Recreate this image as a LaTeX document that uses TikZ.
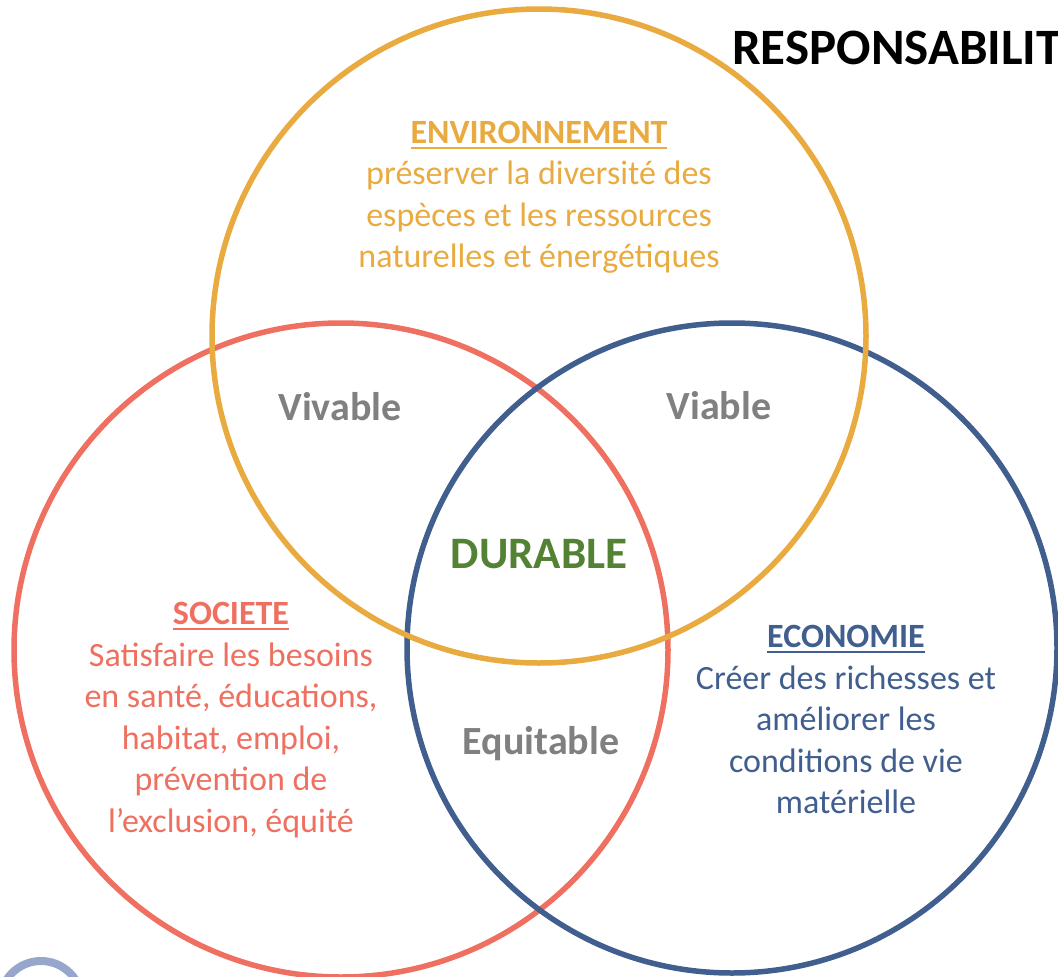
\documentclass[tikz,border=0pt]{standalone}
\usepackage{fontspec}
\setmainfont{Carlito}
\usetikzlibrary{positioning}

\definecolor{envcol}{RGB}{233,171,64}
\definecolor{soccol}{RGB}{239,112,96}
\definecolor{ecocol}{RGB}{64,94,142}
\definecolor{durcol}{RGB}{84,130,53}
\definecolor{zonecol}{RGB}{128,128,128}
\definecolor{logocol}{RGB}{150,166,204}

% bold word with a thick rule under it
\newcommand{\headword}[1]{\setbox0\hbox{\bfseries #1}\vtop{\copy0\kern3pt\hrule height 1.8pt width \wd0}}

\begin{document}
\begin{tikzpicture}[x=1pt,y=-1pt,
    ring/.style={line width=5.5pt},
    pillar/.style={align=center, anchor=north, inner sep=0pt,
        font=\fontsize{34}{41.5}\selectfont},
    zone/.style={anchor=base, inner sep=0pt, text=zonecol,
        font=\fontsize{40}{48}\selectfont\bfseries},
    ]
\useasboundingbox (0,0) rectangle (1058,977);
\clip (0,0) rectangle (1058,977);

% the three circles
\draw[ring, soccol] (341,650) circle[radius=327pt];
\draw[ring, ecocol] (732,648) circle[radius=325pt];
\draw[ring, envcol] (539,336) circle[radius=327pt];

% logo ring in the corner
\draw[logocol, line width=8pt] (41,1002) circle[radius=41pt];

\node[anchor=base west, inner sep=0pt, font=\fontsize{51}{60}\selectfont\bfseries]
    (title) at (732,64) {RESPONSABILIT};

\node[pillar, text=envcol] (env) at (539,121) {\headword{ENVIRONNEMENT}\\
    préserver la diversité des\\ espèces et les ressources\\ naturelles et énergétiques};
\node[pillar, text=soccol] (soc) at (231,602) {\headword{SOCIETE}\\
    Satisfaire les besoins\\ en santé, éducations,\\ habitat, emploi,\\
    prévention de\\ l’exclusion, équité};
\node[pillar, text=ecocol] (eco) at (846,625) {\headword{ECONOMIE}\\
    Créer des richesses et\\ améliorer les\\ conditions de vie\\ matérielle};

\node[zone] (vivable) at (340,420) {Vivable};
\node[zone] (viable) at (719,419) {Viable};
\node[zone] (equitable) at (541,754) {Equitable};
\node[anchor=base, inner sep=0pt, text=durcol, font=\fontsize{45}{54}\selectfont\bfseries]
    (durable) at (539,568) {DURABLE};
\end{tikzpicture}
\end{document}
